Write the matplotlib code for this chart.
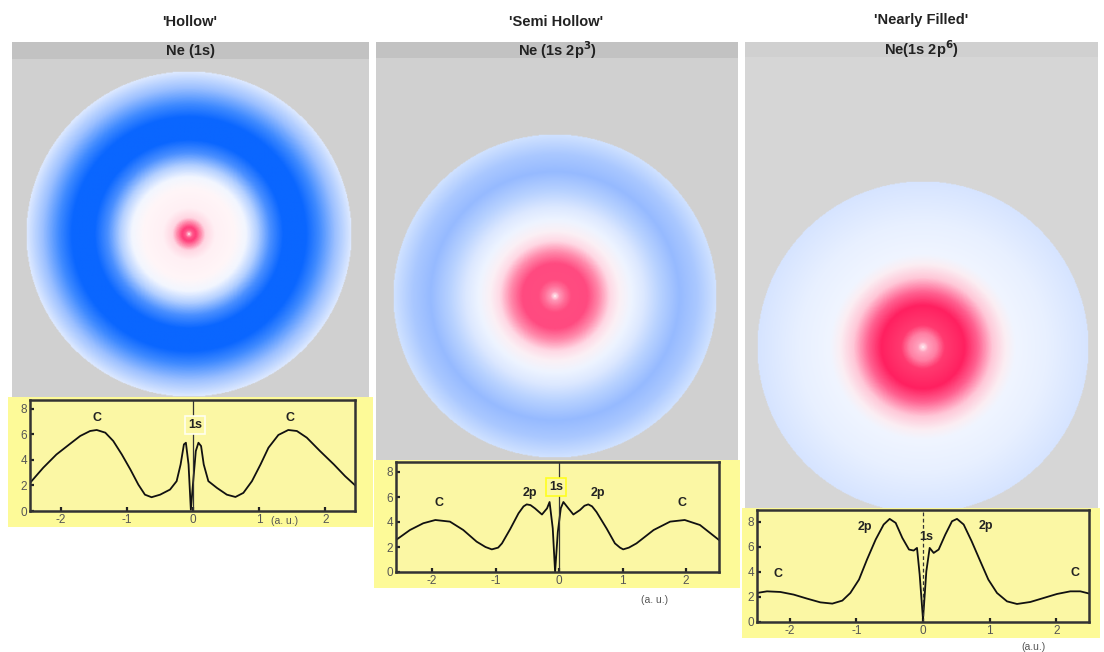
import numpy as np
import matplotlib
matplotlib.use("Agg")
import matplotlib.pyplot as plt
from matplotlib.colors import LinearSegmentedColormap
from matplotlib.patches import Rectangle

plt.rcParams['axes.unicode_minus'] = False

# ---------------- data ----------------
titles = ["'Hollow'", "'Semi Hollow'", "'Nearly Filled'"]
configs = [r"Ne (1s)", r"Ne (1s 2p$^{\mathbf{3}}$)", r"Ne(1s 2p$^{\mathbf{6}}$)"]

x_hollow = [-2.47, -2.27, -2.07, -1.86, -1.71, -1.56, -1.46, -1.33, -1.21, -1.08, -0.95,
            -0.83, -0.73, -0.63, -0.50, -0.35, -0.25, -0.19, -0.14, -0.11, -0.07, -0.035,
            0.005, 0.04, 0.08, 0.12, 0.16, 0.23, 0.36, 0.51, 0.64, 0.76, 0.89, 1.02, 1.14,
            1.29, 1.44, 1.57, 1.72, 1.92, 2.13, 2.30, 2.45]
y_hollow = [2.2, 3.39, 4.43, 5.28, 5.88, 6.27, 6.35, 6.14, 5.49, 4.43, 3.25,
            2.07, 1.28, 1.08, 1.28, 1.68, 2.34, 3.65, 5.22, 5.35, 3.65, 0.1,
            2.6, 4.7, 5.35, 5.09, 3.65, 2.34, 1.81, 1.28, 1.1, 1.42, 2.34, 3.65, 4.96,
            5.96, 6.35, 6.27, 5.75, 4.7, 3.65, 2.73, 2.02]

x_semi = [-2.57, -2.35, -2.14, -1.95, -1.72, -1.51, -1.30, -1.16, -1.06, -0.96, -0.90,
          -0.77, -0.64, -0.56, -0.51, -0.45, -0.38, -0.27, -0.19, -0.15, -0.10, -0.063,
          -0.02, 0.027, 0.068, 0.147, 0.225, 0.33, 0.40, 0.46, 0.52, 0.59, 0.75, 0.88,
          0.96, 1.01, 1.10, 1.22, 1.49, 1.75, 1.98, 2.22, 2.52]
y_semi = [2.56, 3.36, 3.9, 4.16, 4.03, 3.36, 2.43, 2.0, 1.81, 1.95, 2.29,
          3.44, 4.69, 5.25, 5.41, 5.35, 5.09, 4.6, 5.09, 5.6, 3.5, 0.0,
          3.2, 5.1, 5.6, 5.09, 4.6, 4.96, 5.3, 5.41, 5.25, 4.8, 3.47, 2.29,
          1.95, 1.81, 1.95, 2.29, 3.36, 4.03, 4.16, 3.76, 2.56]

x_filled = [-2.49, -2.34, -2.14, -1.94, -1.74, -1.54, -1.36, -1.21, -1.09, -0.96, -0.84,
            -0.71, -0.59, -0.50, -0.41, -0.31, -0.21, -0.14, -0.09, -0.05, 0.0, 0.05,
            0.10, 0.16, 0.235, 0.335, 0.435, 0.51, 0.61, 0.73, 0.86, 0.98, 1.11, 1.26,
            1.41, 1.61, 1.81, 2.01, 2.21, 2.36, 2.48]
y_filled = [2.32, 2.45, 2.4, 2.19, 1.87, 1.57, 1.47, 1.71, 2.32, 3.39, 4.99,
            6.59, 7.79, 8.24, 7.92, 6.72, 5.79, 5.71, 5.92, 3.79, 0.2, 4.05,
            5.92, 5.52, 5.79, 6.99, 8.05, 8.24, 7.79, 6.45, 4.85, 3.39, 2.32, 1.65,
            1.44, 1.6, 1.92, 2.24, 2.45, 2.45, 2.29]

xticks = [-2, -1, 0, 1, 2]
yticks = [0, 2, 4, 6, 8]
xlims = [(-2.47, 2.45), (-2.57, 2.52), (-2.49, 2.49)]
ylims = [(0, 8.7), (0, 8.8), (0, 8.95)]

# annotation labels: (text, x, y, boxed)
labels_hollow = [("C", -1.46, 7.3, False), ("C", 1.47, 7.3, False), ("1s", 0.03, 6.75, True)]
labels_semi = [("C", -1.9, 5.5, False), ("C", 1.93, 5.5, False), ("2p", -0.46, 6.3, False),
               ("2p", 0.61, 6.3, False), ("1s", -0.05, 6.8, True)]
labels_filled = [("C", -2.17, 3.8, False), ("C", 2.28, 3.9, False), ("2p", -0.87, 7.6, False),
                 ("2p", 0.95, 7.7, False), ("1s", 0.05, 6.8, False)]

# radial colour stops of the density discs (fraction of radius, colour)
ring_r_hollow = [0.0, 0.018, 0.04, 0.065, 0.1, 0.16, 0.28, 0.35, 0.42, 0.5, 0.58, 0.72, 0.8, 0.9, 1.0]
ring_c_hollow = ['#ffe4ec', '#ff5c8e', '#ff3d7a', '#ff7aa0', '#ffd6e2', '#fff0f4', '#fff6f8',
                 '#f2f6ff', '#b4d0ff', '#4a8fff', '#0a66ff', '#0a66ff', '#3f8aff', '#9cc0ff', '#dde9ff']
ring_r_semi = [0.0, 0.025, 0.06, 0.1, 0.2, 0.27, 0.34, 0.40, 0.47, 0.55, 0.65, 0.77, 0.88, 1.0]
ring_c_semi = ['#fff0f4', '#ff99b8', '#ff7099', '#ff4c80', '#ff4a80', '#ff88aa', '#ffd8e4',
               '#fbf0f5', '#eef4ff', '#dce8ff', '#b8d2ff', '#96baff', '#aac8ff', '#d0e2ff']
ring_r_filled = [0.0, 0.03, 0.08, 0.13, 0.25, 0.33, 0.42, 0.5, 0.56, 0.75, 1.0]
ring_c_filled = ['#ffeef3', '#ffa0bc', '#ff80a4', '#ff3a70', '#ff2060', '#ff6090', '#ffc8d8',
                 '#fbeef3', '#f0f5ff', '#e8f0ff', '#d6e4ff']

# ---------------- layout (pixels) ----------------
W, H = 1104, 652
fig = plt.figure(figsize=(W / 100, H / 100), dpi=100)
fig.patch.set_facecolor('white')


def frect(x0, y0, x1, y1):
    return [x0 / W, 1 - y1 / H, (x1 - x0) / W, (y1 - y0) / H]


def add_rect(x0, y0, x1, y1, color, z=0):
    fig.add_artist(Rectangle((x0 / W, 1 - y1 / H), (x1 - x0) / W, (y1 - y0) / H,
                             transform=fig.transFigure, facecolor=color, edgecolor='none', zorder=z))


FONT = ['Liberation Sans Narrow', 'Liberation Sans', 'DejaVu Sans']
YEL_OUT = '#fdfa98'
YEL_IN = '#fbf7a4'

panels = [
    dict(gray=(12, 42, 369, 397), head=(12, 42, 369, 59), bg='#d0d0d0', hc='#c2c2c2',
         title_xy=(190, 22), circ=(189, 234, 163), yel=(8, 397, 373, 527),
         ax=(30, 400, 355, 511), au=(285, 521), x=x_hollow, y=y_hollow,
         labels=labels_hollow, rr=ring_r_hollow, rc=ring_c_hollow, dashed=False, boxec='#fffff0'),
    dict(gray=(376, 42, 738, 460), head=(376, 42, 738, 58), bg='#d0d0d0', hc='#c2c2c2',
         title_xy=(556, 22), circ=(555, 296, 162), yel=(374, 460, 740, 588),
         ax=(396, 462, 719, 572), au=(655, 600), x=x_semi, y=y_semi,
         labels=labels_semi, rr=ring_r_semi, rc=ring_c_semi, dashed=False, boxec='#ffff20'),
    dict(gray=(745, 42, 1098, 510), head=(745, 42, 1098, 57), bg='#d6d6d6', hc='#d0d0d0',
         title_xy=(921, 20), circ=(923, 347, 166), yel=(742, 508, 1100, 638),
         ax=(757, 510, 1089, 622), au=(1033, 647), x=x_filled, y=y_filled,
         labels=labels_filled, rr=ring_r_filled, rc=ring_c_filled, dashed=True, boxec=None),
]

n = 400
g = np.linspace(-1, 1, n)
GX, GY = np.meshgrid(g, g)
R = np.sqrt(GX ** 2 + GY ** 2)

for i, p in enumerate(panels):
    add_rect(*p['gray'], p['bg'], 0)
    add_rect(*p['head'], p['hc'], 1)
    fig.text(p['title_xy'][0] / W, 1 - p['title_xy'][1] / H, titles[i], ha='center', va='center',
             fontsize=10.5, fontweight='bold', family=FONT, color='#222222')
    hx = (p['head'][0] + p['head'][2]) / 2
    hy = (p['head'][1] + p['head'][3]) / 2
    fig.text(hx / W, 1 - hy / H, configs[i], ha='center', va='center',
             fontsize=10.5, fontweight='bold', family=FONT, color='#222222', zorder=3)

    # density disc
    cx, cy, r = p['circ']
    cax = fig.add_axes(frect(cx - r, cy - r, cx + r, cy + r))
    cmap = LinearSegmentedColormap.from_list('ring%d' % i, list(zip(p['rr'], p['rc'])))
    img = cmap(np.clip(R, 0, 1))
    img[..., 3] = np.where(R <= 1.0, 1.0, 0.0)
    cax.imshow(img, extent=[-1, 1, -1, 1], interpolation='bilinear')
    cax.set_xlim(-1, 1)
    cax.set_ylim(-1, 1)
    cax.axis('off')

    # yellow profile panel
    add_rect(*p['yel'], YEL_OUT, 1)
    ax = fig.add_axes(frect(*p['ax']))
    ax.set_zorder(5)
    ax.set_facecolor(YEL_IN)
    ax.plot(p['x'], p['y'], color='#111111', lw=1.3, solid_joinstyle='round')
    ax.axvline(0, color='#333333', lw=0.9, ls=(0, (3, 2)) if p['dashed'] else '-')
    ax.set_xlim(*xlims[i])
    ax.set_ylim(*ylims[i])
    ax.set_xticks(xticks)
    ax.set_yticks(yticks)
    ax.tick_params(direction='in', length=3, width=1.6, color='#222222', labelsize=8.5,
                   labelcolor='#555555', pad=2)
    for lab in ax.get_xticklabels() + ax.get_yticklabels():
        lab.set_family(FONT)
    for s in ax.spines.values():
        s.set_color('#333333')
        s.set_linewidth(1.8)
    for (t, lx, ly, boxed) in p['labels']:
        kw = dict(ha='center', va='center', fontsize=9, fontweight='bold', family=FONT,
                  color='#222222')
        if boxed:
            kw['bbox'] = dict(boxstyle='square,pad=0.25', fc=YEL_IN, ec=p['boxec'], lw=1.2)
        ax.text(lx, ly, t, **kw)
    fig.text(p['au'][0] / W, 1 - p['au'][1] / H, '(a. u.)' if i < 2 else '(a.u.)',
             ha='center', va='center', fontsize=7.5, family=FONT, color='#555555', zorder=6)

fig.savefig('out.png', dpi=100, facecolor='white')
